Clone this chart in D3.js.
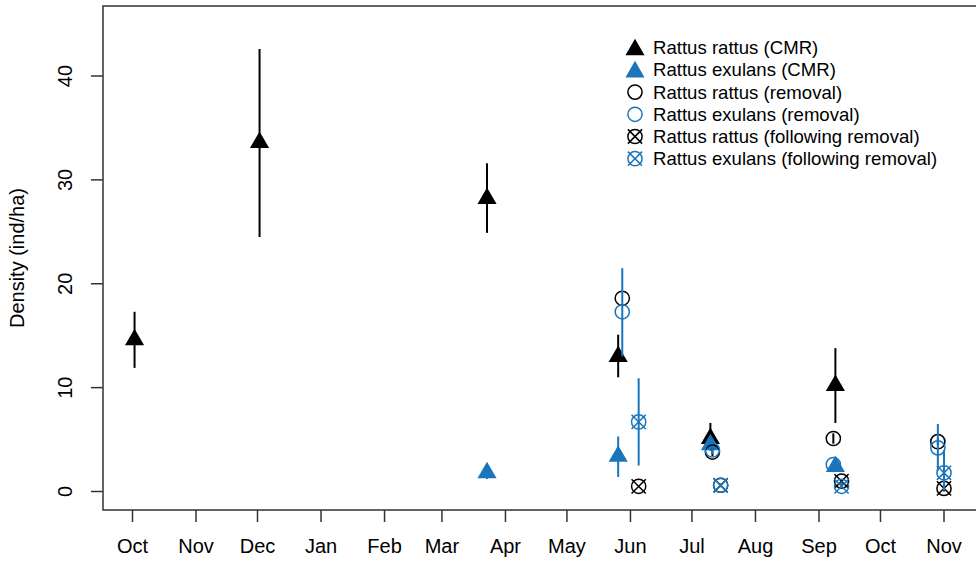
<!DOCTYPE html>
<html>
<head>
<meta charset="utf-8">
<script src="https://cdn.jsdelivr.net/npm/d3@7"></script>
<style>
body{margin:0;background:#fff;}
svg{display:block;font-family:"Liberation Sans",Arial,sans-serif;}
</style>
</head>
<body>
<svg id="chart" width="976" height="562"></svg>
<script>
var black="#000000";
var blue="#1b75bb";

var yTicks=[0,10,20,30,40];

var rattusCMRdates=["2010-10-02","2010-12-02","2011-03-23","2011-05-26","2011-07-10","2011-09-09"];
var rattusCMRval=[14.6,33.6,28.2,13.0,5.1,10.2];
var rattusCMRlo=[11.9,24.5,24.9,11.0,4.2,6.6];
var rattusCMRhi=[17.3,42.6,31.6,15.1,6.6,13.8];

var exulansCMRdates=["2011-03-23","2011-05-26","2011-07-10","2011-09-09"];
var exulansCMRval=[1.8,3.4,4.5,2.4];
var exulansCMRlo=[1.2,1.4,3.9,1.9];
var exulansCMRhi=[2.2,5.3,5.1,3.0];

var removalDates=["2011-05-28","2011-07-11","2011-09-08","2011-10-29"];
var rattusRemVal=[18.6,3.8,5.1,4.8];
var rattusRemLo=[18.6,3.4,4.6,4.5];
var rattusRemHi=[18.6,4.2,5.6,5.1];
var exulansRemVal=[17.3,4.0,2.6,4.2];
var exulansRemLo=[13.0,3.6,2.6,2.0];
var exulansRemHi=[21.5,4.4,2.6,6.5];

var followDates=["2011-06-05","2011-07-15","2011-09-12","2011-11-01"];
var rattusFolVal=[0.5,0.6,1.0,0.3];
var rattusFolLo=[0.5,0.6,0.6,0.0];
var rattusFolHi=[0.5,0.6,1.0,0.6];
var exulansFolVal=[6.7,0.6,0.5,1.8];
var exulansFolLo=[2.5,0.4,0.3,0.0];
var exulansFolHi=[10.9,0.8,1.0,4.0];

var legendLabels=["Rattus rattus (CMR)","Rattus exulans (CMR)","Rattus rattus (removal)",
    "Rattus exulans (removal)","Rattus rattus (following removal)","Rattus exulans (following removal)"];

var parse=d3.utcParse("%Y-%m-%d");
var svg=d3.select("#chart");

var x=d3.scaleUtc()
    .domain([parse("2010-10-01"),parse("2011-11-01")])
    .range([132.5,944]);
var y=d3.scaleLinear().domain([0,40]).range([491.5,76]);

var plotL=103,plotT=6,plotB=510,plotR=990;

function build(dates,val,lo,hi){
    var out=[];
    for(var i=0;i<dates.length;i++){
        out.push({d:parse(dates[i]),v:val[i],lo:lo[i],hi:hi[i]});
    }
    return out;
}

var series=[
    {name:legendLabels[0],shape:"tri",col:black,data:build(rattusCMRdates,rattusCMRval,rattusCMRlo,rattusCMRhi)},
    {name:legendLabels[1],shape:"tri",col:blue,data:build(exulansCMRdates,exulansCMRval,exulansCMRlo,exulansCMRhi)},
    {name:legendLabels[2],shape:"circle",col:black,data:build(removalDates,rattusRemVal,rattusRemLo,rattusRemHi)},
    {name:legendLabels[3],shape:"circle",col:blue,data:build(removalDates,exulansRemVal,exulansRemLo,exulansRemHi)},
    {name:legendLabels[4],shape:"cross",col:black,data:build(followDates,rattusFolVal,rattusFolLo,rattusFolHi)},
    {name:legendLabels[5],shape:"cross",col:blue,data:build(followDates,exulansFolVal,exulansFolLo,exulansFolHi)}
];

// R style symbol sizes
var xc=7.1;
function symbol(g,shape,col,cx,cy){
    if(shape=="tri"){
        var r=1.555*xc,h=1.347*xc,yc=0.778*xc;
        g.append("path")
            .attr("d","M"+cx+","+(cy-r)+"L"+(cx+h)+","+(cy+yc)+"L"+(cx-h)+","+(cy+yc)+"Z")
            .attr("fill",col);
    }else{
        g.append("circle").attr("cx",cx).attr("cy",cy).attr("r",xc)
            .attr("fill","none").attr("stroke",col).attr("stroke-width",1.5);
        if(shape=="cross"){
            g.append("path")
                .attr("d","M"+(cx-xc)+","+(cy-xc)+"L"+(cx+xc)+","+(cy+xc)+"M"+(cx-xc)+","+(cy+xc)+"L"+(cx+xc)+","+(cy-xc))
                .attr("stroke",col).attr("stroke-width",1.5).attr("fill","none");
        }
    }
}

// box
svg.append("path")
    .attr("d","M"+plotR+","+plotT+"H"+plotL+"V"+plotB+"H"+plotR)
    .attr("fill","none").attr("stroke","#333").attr("stroke-width",1.5);

// y axis
var ya=svg.append("g");
yTicks.forEach(function(t){
    ya.append("line").attr("x1",91).attr("x2",plotL).attr("y1",y(t)).attr("y2",y(t))
        .attr("stroke","#333").attr("stroke-width",1.5);
    ya.append("text").attr("transform","translate(72,"+y(t)+") rotate(-90)")
        .attr("text-anchor","middle").attr("font-size",20).text(t);
});
svg.append("text").attr("transform","translate(24,"+((plotT+plotB)/2)+") rotate(-90)")
    .attr("text-anchor","middle").attr("font-size",20).text("Density (ind/ha)");

// x axis
var months=x.ticks(d3.utcMonth.every(1));
var fmt=d3.utcFormat("%b");
var xa=svg.append("g");
months.forEach(function(m){
    xa.append("line").attr("x1",x(m)).attr("x2",x(m)).attr("y1",plotB).attr("y2",522)
        .attr("stroke","#333").attr("stroke-width",1.5);
    xa.append("text").attr("x",x(m)).attr("y",553)
        .attr("text-anchor","middle").attr("font-size",20).text(fmt(m));
});

// data
series.forEach(function(s){
    var g=svg.append("g");
    s.data.forEach(function(p){
        if(p.hi>p.lo){
            g.append("line").attr("x1",x(p.d)).attr("x2",x(p.d))
                .attr("y1",y(p.lo)).attr("y2",y(p.hi))
                .attr("stroke",s.col).attr("stroke-width",2);
        }
        symbol(g,s.shape,s.col,x(p.d),y(p.v));
    });
});

// legend
var lg=svg.append("g");
series.forEach(function(s,i){
    var cy=47.7+i*22.2;
    symbol(lg,s.shape,s.col,635,cy+(s.shape=="tri"?2:0));
    lg.append("text").attr("x",653).attr("y",cy+6.5)
        .attr("font-size",18.6).text(s.name);
});
</script>
</body>
</html>
